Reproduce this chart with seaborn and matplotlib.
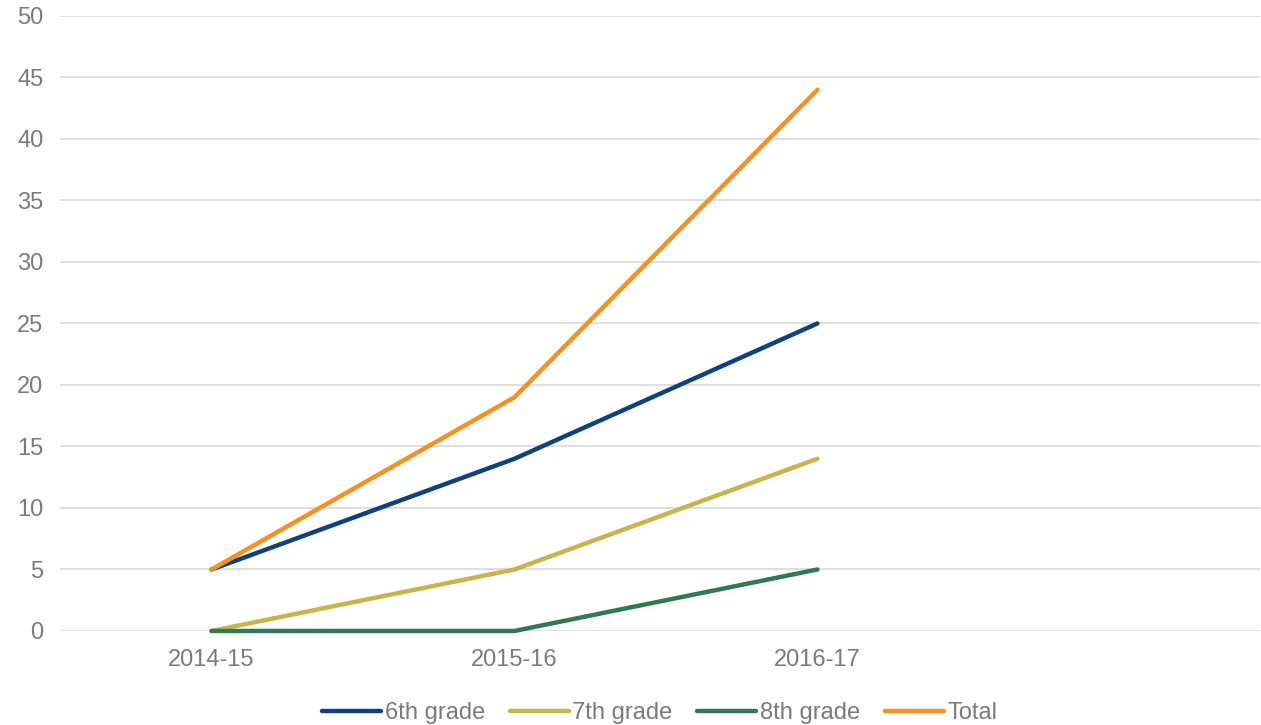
import pandas as pd
import numpy as np
import seaborn as sns
import matplotlib.pyplot as plt

years = ["2014-15", "2015-16", "2016-17"]
grade6 = [5, 14, 25]
grade7 = [0, 5, 14]
grade8 = [0, 0, 5]
total = [5, 19, 44]

series = ["6th grade", "7th grade", "8th grade", "Total"]
colors = ["#0e4180", "#c9b44a", "#2e7b52", "#f7901e"]

df = pd.DataFrame({
    "Year": list(range(len(years))) * 4,
    "Series": [s for s in series for _ in years],
    "Value": grade6 + grade7 + grade8 + total,
})

sns.set_style("white")
plt.rcParams["font.family"] = ["Liberation Sans", "DejaVu Sans"]

fig = plt.figure(figsize=(12.61, 7.25), dpi=100)
ax = fig.add_axes([0.0476, 0.1297, 0.9514, 0.8483])

sns.lineplot(data=df, x="Year", y="Value", hue="Series", palette=colors,
             linewidth=3.2, ax=ax, solid_capstyle="round")
for l in ax.get_lines():
    l.set_clip_on(False)

ax.set_xlim(-0.5, 3.46)
ax.set_ylim(0, 50)
ax.set_yticks(np.arange(0, 51, 5))
ax.set_xticks(range(len(years)))
ax.set_xticklabels(years)
ax.grid(axis="y", color="#d9d9d9", linewidth=1.2)
ax.set_axisbelow(True)
for s in ax.spines.values():
    s.set_visible(False)
ax.tick_params(axis="both", length=0, labelsize=17, labelcolor="#7a7a7a")
ax.tick_params(axis="x", pad=13)
ax.tick_params(axis="y", pad=12)
ax.set_xlabel("")
ax.set_ylabel("")

leg = ax.legend(loc="center", bbox_to_anchor=(0.5, -0.133), ncol=4,
                frameon=False, fontsize=17, handlelength=2.5,
                handletextpad=0.15, columnspacing=1.05)
for t in leg.get_texts():
    t.set_color("#7a7a7a")
for l in leg.get_lines():
    l.set_linewidth(3.2)

plt.savefig("out.png")
